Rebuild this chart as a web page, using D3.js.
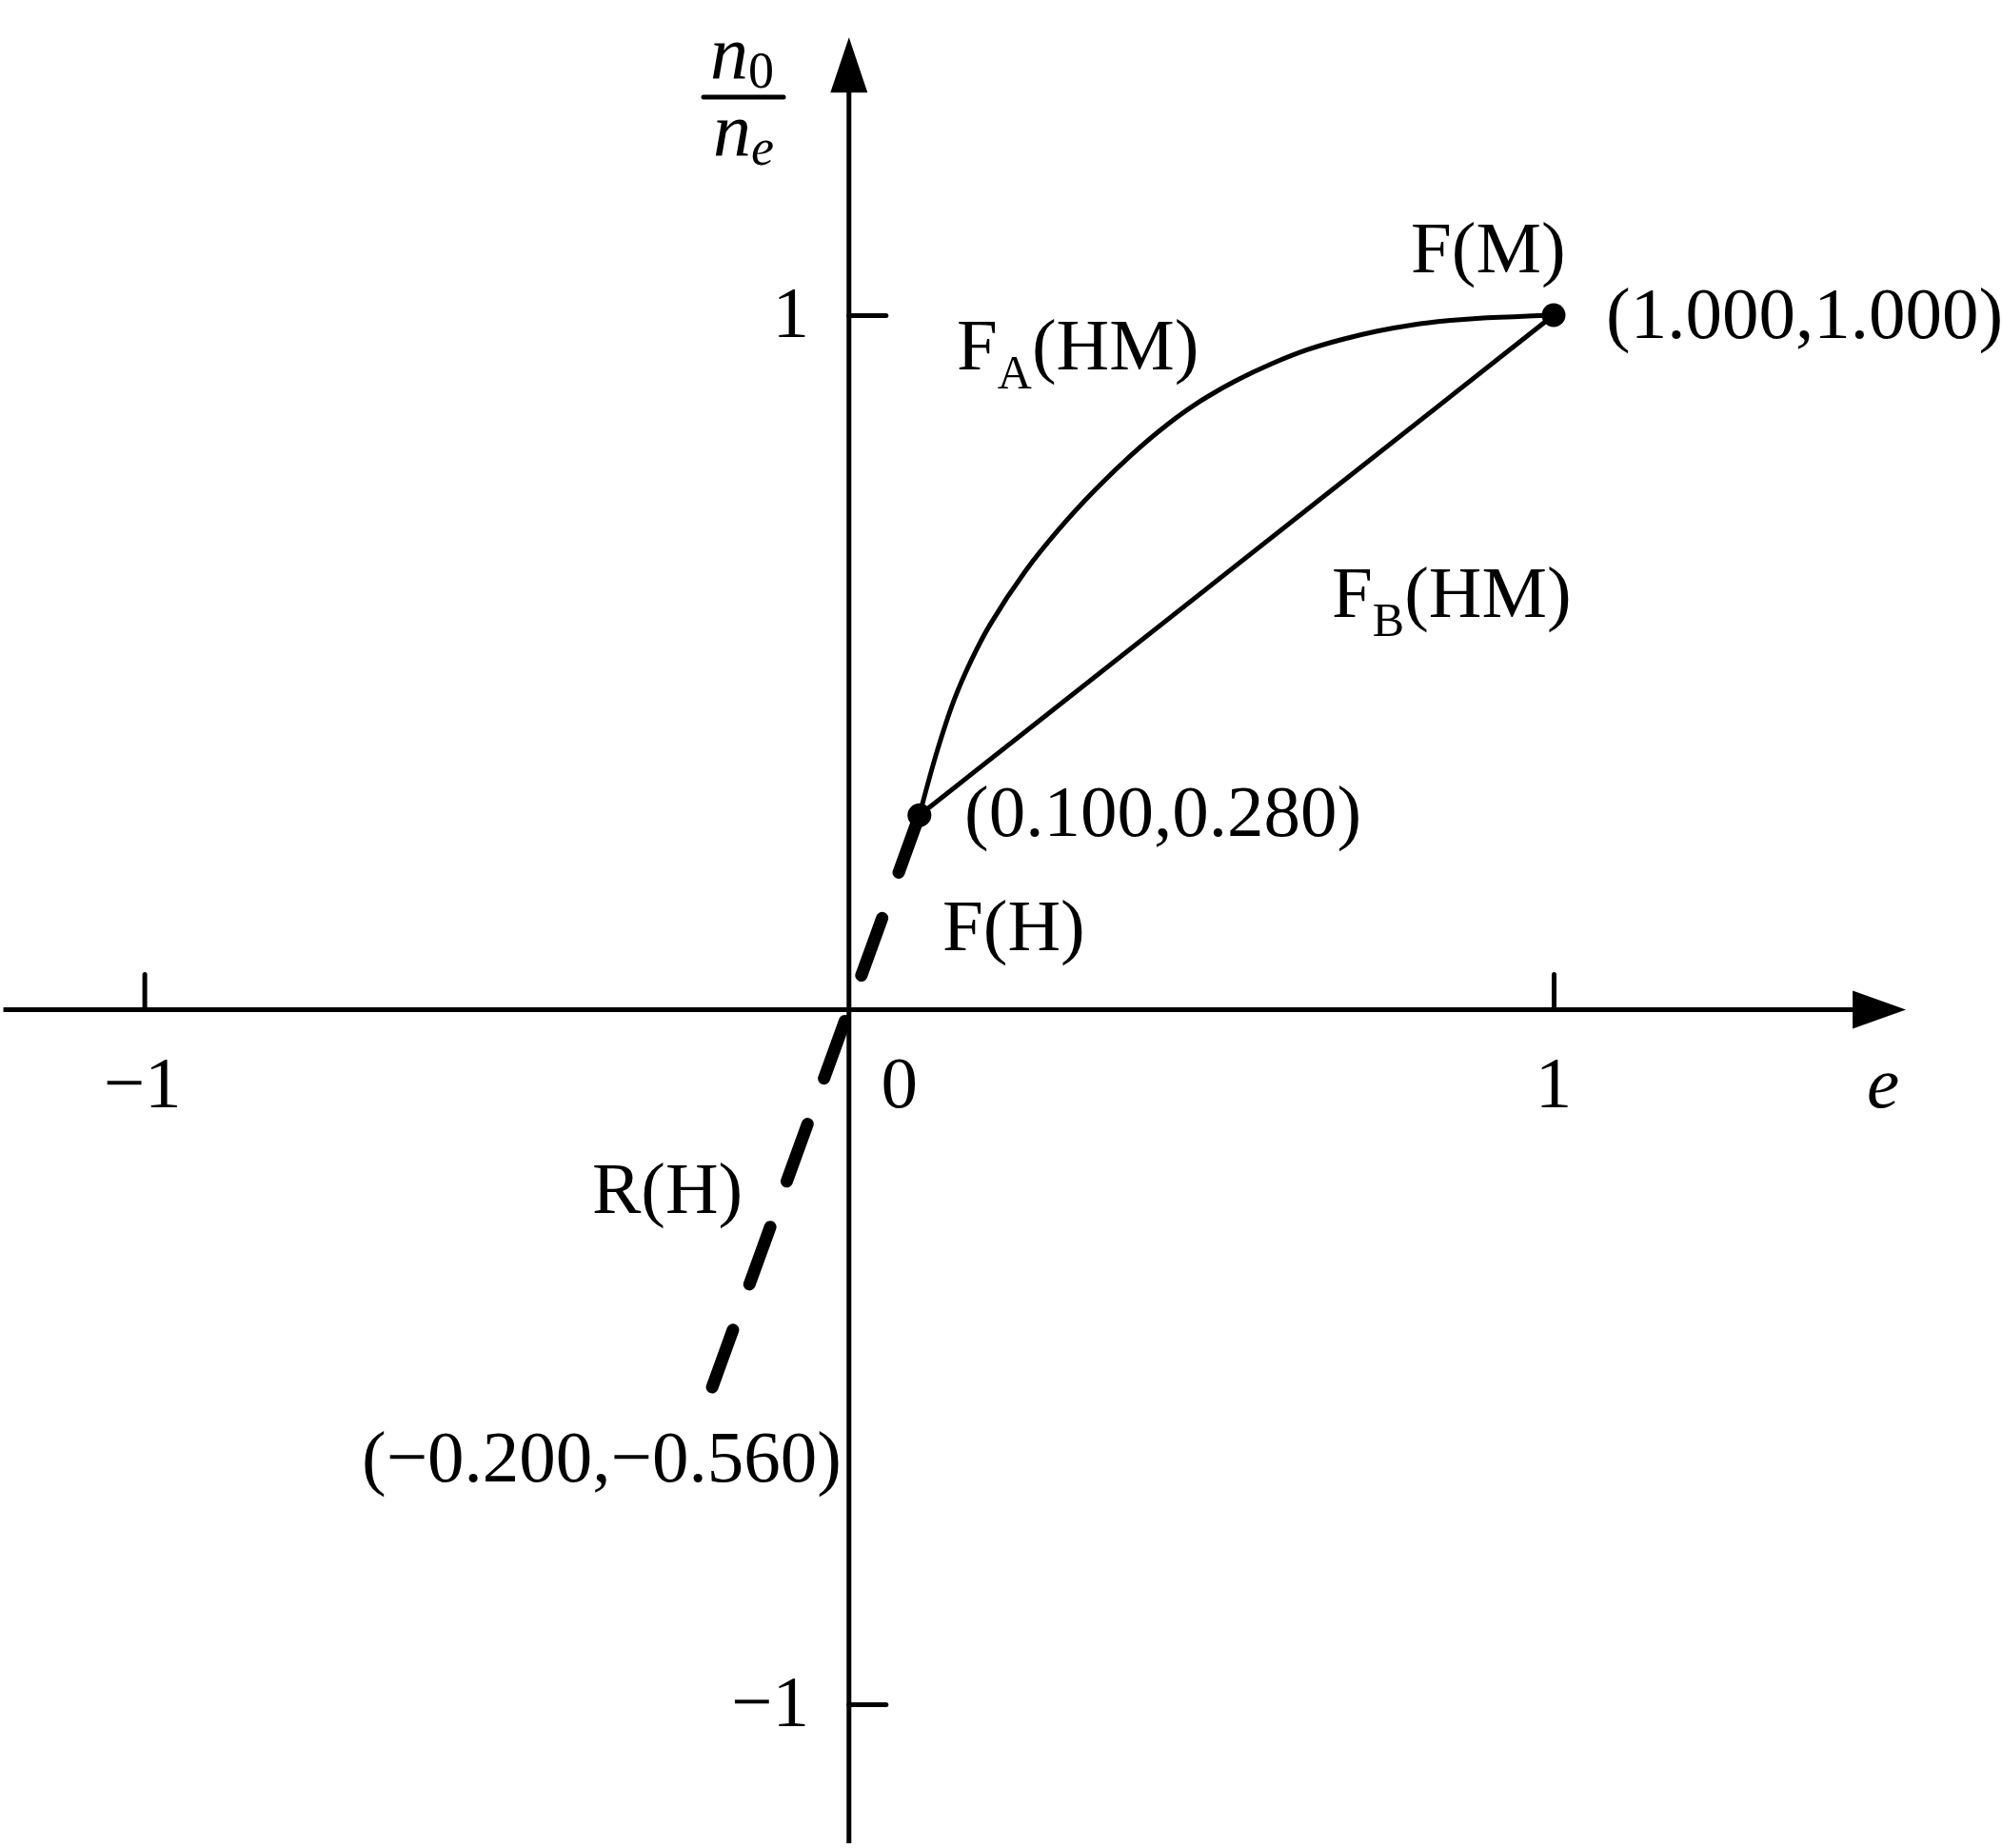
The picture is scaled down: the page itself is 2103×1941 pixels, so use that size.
<!DOCTYPE html>
<html>
<head>
<meta charset="utf-8">
<script src="https://cdn.jsdelivr.net/npm/d3@7"></script>
<style>
  html, body { margin: 0; padding: 0; background: #fff; }
  svg { display: block; }
  text { font-family: "Liberation Serif", "Times New Roman", serif; fill: #000; }
</style>
</head>
<body>
<script>
// ---- data ----
const E_TICKS = [-1, 1];
const N_TICKS = [1, -1];
const X_TICK_LABELS = ["−1", "0", "1"];
const X_TICK_LABEL_VALUES = [-1, 0, 1];
const Y_TICK_LABELS = ["1", "−1"];
const Y_TICK_LABEL_VALUES = [1, -1];

// F_A(HM) curve
const FA_E = [0.100, 0.125, 0.150, 0.175, 0.200, 0.250, 0.300, 0.350, 0.400, 0.450, 0.500, 0.550, 0.600, 0.650, 0.700, 0.750, 0.800, 0.850, 0.900, 0.950, 1.000];
const FA_N = [0.280, 0.372, 0.448, 0.506, 0.554, 0.631, 0.694, 0.749, 0.798, 0.841, 0.877, 0.906, 0.930, 0.950, 0.965, 0.977, 0.986, 0.992, 0.996, 0.998, 1.000];
// F_B(HM) straight line
const FB_E = [0.100, 1.000];
const FB_N = [0.280, 1.000];
// F(H) / R(H) dashed line
const RH_E = [0.100, -0.200];
const RH_N = [0.280, -0.560];
// marked points
const PT_E = [0.100, 1.000];
const PT_N = [0.280, 1.000];

const W = 2103, H = 1941;
const svg = d3.select("body").append("svg").attr("width", W).attr("height", H);

const x = d3.scaleLinear().domain([-1, 1]).range([151.6, 1632]);
const y = d3.scaleLinear().domain([-1, 1]).range([1790, 331]);

const X_EXT = [-1.2, 1.5];
const Y_EXT = [-1.2, 1.4];
const AX_W = 5;

// axes lines
svg.append("line")
  .attr("x1", x(X_EXT[0])).attr("x2", x(X_EXT[1]) - 40)
  .attr("y1", y(0)).attr("y2", y(0))
  .attr("stroke", "#000").attr("stroke-width", AX_W);
svg.append("line")
  .attr("x1", x(0)).attr("x2", x(0))
  .attr("y1", y(Y_EXT[0])).attr("y2", y(Y_EXT[1]) + 40)
  .attr("stroke", "#000").attr("stroke-width", AX_W);

// arrowheads
const xt = x(X_EXT[1]), y0 = y(0);
svg.append("path")
  .attr("d", `M${xt},${y0} L${xt - 56},${y0 - 20} L${xt - 56},${y0 + 20} Z`)
  .attr("fill", "#000");
const yt = y(Y_EXT[1]), x0 = x(0);
svg.append("path")
  .attr("d", `M${x0},${yt} L${x0 - 19.5},${yt + 58} L${x0 + 19.5},${yt + 58} Z`)
  .attr("fill", "#000");

// ticks via d3 axes
const xAxis = svg.append("g").attr("transform", `translate(0,${y(0)})`)
  .call(d3.axisTop(x).tickValues(E_TICKS).tickSize(37).tickFormat(""));
const yAxis = svg.append("g").attr("transform", `translate(${x(0)},0)`)
  .call(d3.axisRight(y).tickValues(N_TICKS).tickSize(39).tickFormat(""));
[xAxis, yAxis].forEach(g => {
  g.select(".domain").remove();
  g.selectAll(".tick line").attr("stroke", "#000").attr("stroke-width", AX_W).attr("stroke-linecap", "round");
});

const FS = 77;

// x tick labels
svg.append("g").selectAll("text").data(X_TICK_LABEL_VALUES).join("text")
  .attr("x", (d) => d === 0 ? x(d) + 53 : x(d) - (d < 0 ? 2 : 0))
  .attr("y", 1163)
  .attr("text-anchor", "middle")
  .attr("font-size", FS)
  .text((d, i) => X_TICK_LABELS[i]);
// axis name e
svg.append("text").attr("x", 1978).attr("y", 1163).attr("text-anchor", "middle")
  .attr("font-size", FS).attr("font-style", "italic").text("e");

// y tick labels
svg.append("g").selectAll("text").data(Y_TICK_LABEL_VALUES).join("text")
  .attr("x", 850)
  .attr("y", d => y(d) + 23)
  .attr("text-anchor", "end")
  .attr("font-size", FS)
  .text((d, i) => Y_TICK_LABELS[i]);

// y axis name: n0 / ne
const fr = svg.append("g");
fr.append("line").attr("x1", 739).attr("x2", 823).attr("y1", 102).attr("y2", 102)
  .attr("stroke", "#000").attr("stroke-width", 5).attr("stroke-linecap", "round");
const num = fr.append("text").attr("x", 746).attr("y", 82).attr("font-size", 80);
num.append("tspan").attr("font-style", "italic").text("n");
num.append("tspan").attr("font-size", 54).attr("dy", 10).text("0");
const den = fr.append("text").attr("x", 749).attr("y", 163).attr("font-size", 80);
den.append("tspan").attr("font-style", "italic").text("n");
den.append("tspan").attr("font-size", 54).attr("dy", 10).attr("font-style", "italic").text("e");

// curves
const fa = FA_E.map((e, i) => [e, FA_N[i]]);
svg.append("path").attr("d", d3.line().x(d => x(d[0])).y(d => y(d[1])).curve(d3.curveCatmullRom.alpha(0.5))(fa))
  .attr("fill", "none").attr("stroke", "#000").attr("stroke-width", 5);
const fb = FB_E.map((e, i) => [e, FB_N[i]]);
svg.append("path").attr("d", d3.line().x(d => x(d[0])).y(d => y(d[1]))(fb))
  .attr("fill", "none").attr("stroke", "#000").attr("stroke-width", 5);
const rh = RH_E.map((e, i) => [e, RH_N[i]]);
svg.append("path").attr("d", d3.line().x(d => x(d[0])).y(d => y(d[1]))(rh))
  .attr("fill", "none").attr("stroke", "#000").attr("stroke-width", 13)
  .attr("stroke-linecap", "round").attr("stroke-dasharray", "64,51");

// points
svg.append("g").selectAll("circle").data(PT_E.map((e, i) => [e, PT_N[i]])).join("circle")
  .attr("cx", d => x(d[0])).attr("cy", d => y(d[1])).attr("r", 12.5).attr("fill", "#000");

// annotations
function label(tx, ty, parts) {
  const t = svg.append("text").attr("x", tx).attr("y", ty).attr("font-size", FS);
  parts.forEach(p => {
    const s = t.append("tspan").text(p.t);
    if (p.sub) s.attr("font-size", 50).attr("dy", 20);
    if (p.up) s.attr("dy", -20);
  });
  return t;
}
label(1482, 286, [{t: "F(M)"}]);
label(1687, 355, [{t: "(1.000,1.000)"}]);
label(1005, 388, [{t: "F"}, {t: "A", sub: true}, {t: "(HM)", up: true}]);
label(1399, 648, [{t: "F"}, {t: "B", sub: true}, {t: "(HM)", up: true}]);
label(1013, 878, [{t: "(0.100,0.280)"}]);
label(990, 998, [{t: "F(H)"}]);
label(622, 1274, [{t: "R(H)"}]);
label(380, 1556, [{t: "(−0.200,−0.560)"}]);
</script>
</body>
</html>
